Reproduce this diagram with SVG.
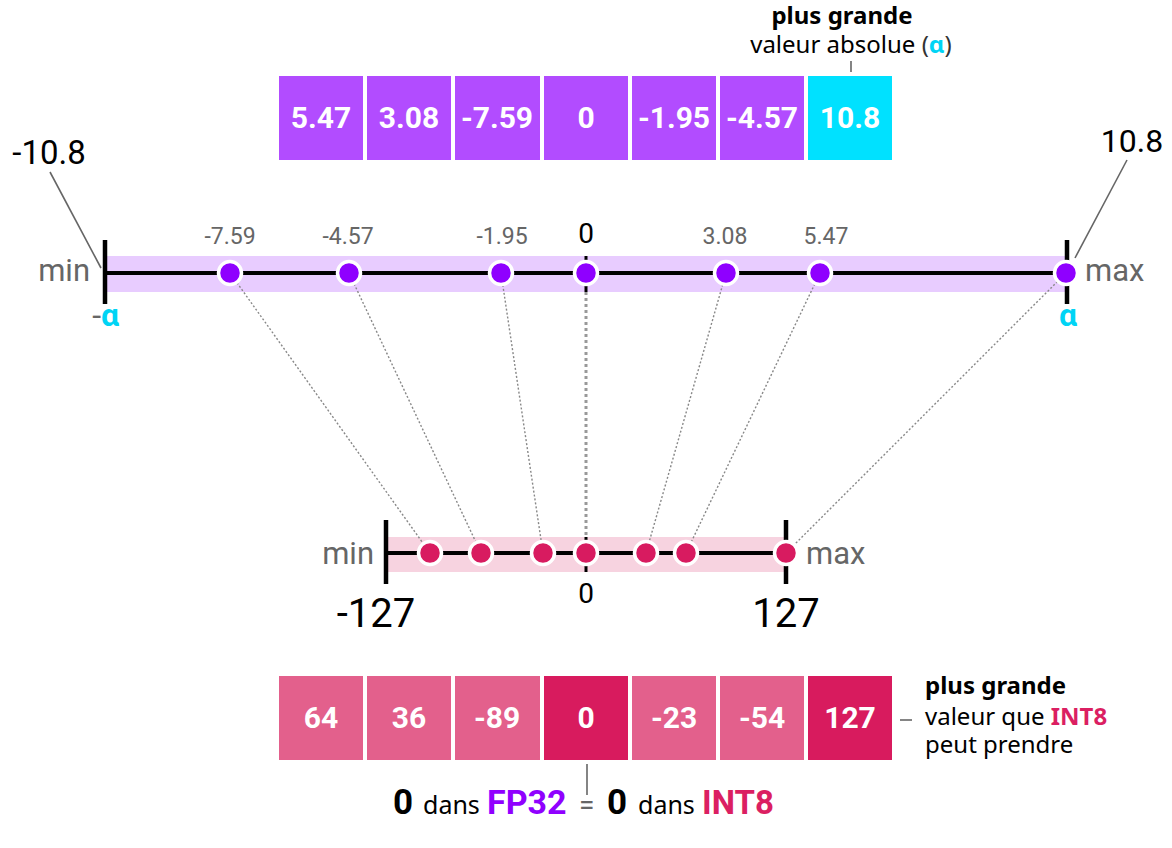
<svg xmlns="http://www.w3.org/2000/svg" width="1172" height="848" viewBox="0 0 1172 848">
<style>
.box{fill:#B24CFF}
.cyan{fill:#00E1FF}
.pk{fill:#E3608C}
.pkd{fill:#D81B5E}
.bt{font-family:Roboto,"Liberation Sans",sans-serif;font-weight:bold;font-size:30px;fill:#fff;text-anchor:middle}
.rb{font-family:Roboto,"Liberation Sans",sans-serif}
.ns{font-family:"Noto Sans","Open Sans",sans-serif}
.val{font-family:Roboto,"Liberation Sans",sans-serif;font-size:23px;fill:#666;text-anchor:middle}
.lbl{font-family:Roboto,"Liberation Sans",sans-serif;font-size:31px;fill:#666}
.big{font-family:Roboto,"Liberation Sans",sans-serif;font-size:40px;fill:#000}
.conn{stroke:#888;stroke-width:1.4;stroke-dasharray:2 2;fill:none}
.lead{stroke:#666;stroke-width:1.6;fill:none}
.axis{stroke:#000;stroke-width:4;fill:none}
.tick{stroke:#000;stroke-width:4.5;fill:none}
.dp{fill:#8F00FF;stroke:#fff;stroke-width:3.5}
.dr{fill:#D81B60;stroke:#fff;stroke-width:3.5}
</style>

<g id="top-array">
<rect class="box" x="279" y="76" width="84" height="84"/><text class="bt" x="321" y="128">5.47</text>
<rect class="box" x="367" y="76" width="84" height="84"/><text class="bt" x="409" y="128">3.08</text>
<rect class="box" x="455" y="76" width="85" height="84"/><text class="bt" x="497" y="128">-7.59</text>
<rect class="box" x="544" y="76" width="84" height="84"/><text class="bt" x="586" y="128">0</text>
<rect class="box" x="632" y="76" width="84" height="84"/><text class="bt" x="674" y="128">-1.95</text>
<rect class="box" x="720" y="76" width="84" height="84"/><text class="bt" x="762" y="128">-4.57</text>
<rect class="cyan" x="808" y="76" width="84" height="84"/><text class="bt" x="850" y="128">10.8</text>
</g>

<g id="top-note">
<text class="ns" x="842" y="24" font-size="24" font-weight="bold" text-anchor="middle" fill="#000">plus grande</text>
<text class="ns" x="851" y="53" font-size="24" text-anchor="middle" fill="#000">valeur absolue <tspan fill="#333">(</tspan><tspan fill="#00D4F5" font-weight="bold">α</tspan><tspan fill="#333">)</tspan></text>
<line class="lead" x1="851" y1="61" x2="851" y2="72"/>
</g>

<g id="top-axis">
<rect x="105" y="256" width="962" height="36" fill="#E8CCFF"/>
</g>

<g id="bottom-axis-band">
<rect x="386" y="537" width="400" height="35" fill="#F7D3E0"/>
</g>

<g id="connectors">
<line class="conn" x1="230" y1="273" x2="430" y2="553"/>
<line class="conn" x1="349" y1="273" x2="481" y2="553"/>
<line class="conn" x1="501" y1="273" x2="543" y2="553"/>
<line class="conn" x1="726" y1="273" x2="646" y2="553"/>
<line class="conn" x1="820" y1="273" x2="686" y2="553"/>
<line class="conn" x1="1066" y1="273" x2="786" y2="553"/>
<line x1="586" y1="292" x2="586" y2="537" stroke="#999" stroke-width="3" stroke-dasharray="3 3"/>
<line class="lead" x1="50" y1="172" x2="101" y2="268"/>
<line class="lead" x1="1127" y1="160" x2="1075" y2="258"/>
<line class="lead" x1="587" y1="764" x2="587" y2="795"/>
<line class="lead" x1="900" y1="720" x2="912" y2="720"/>
</g>

<g id="fp32-line">
<line class="axis" x1="105" y1="273" x2="1067" y2="273"/>
<line class="tick" x1="105" y1="240" x2="105" y2="304"/>
<line class="tick" x1="1067" y1="240" x2="1067" y2="304"/>
<line x1="586" y1="256" x2="586" y2="292" stroke="#000" stroke-width="3"/>
<circle class="dp" cx="230" cy="273" r="11.5"/>
<circle class="dp" cx="349" cy="273" r="11.5"/>
<circle class="dp" cx="501" cy="273" r="11.5"/>
<circle class="dp" cx="586" cy="273" r="11.5"/>
<circle class="dp" cx="726" cy="273" r="11.5"/>
<circle class="dp" cx="820" cy="273" r="11.5"/>
<circle class="dp" cx="1066" cy="273" r="11.5"/>
<text class="val" x="230" y="244">-7.59</text>
<text class="val" x="348" y="244">-4.57</text>
<text class="val" x="502" y="244">-1.95</text>
<text class="rb" x="586" y="243" font-size="28" text-anchor="middle" fill="#000">0</text>
<text class="val" x="725" y="244">3.08</text>
<text class="val" x="826" y="244">5.47</text>
<text class="lbl" x="90" y="281" text-anchor="end">min</text>
<text class="lbl" x="1085" y="281">max</text>
<text class="rb" x="119" y="326" font-size="32" text-anchor="end"><tspan fill="#666">-</tspan><tspan fill="#00D4F5" font-weight="bold">α</tspan></text>
<text class="rb" x="1068" y="326" font-size="32" text-anchor="middle" fill="#00D4F5" font-weight="bold">α</text>
<text class="rb" x="49" y="164" font-size="33" text-anchor="middle" fill="#000">-10.8</text>
<text class="rb" x="1132" y="152" font-size="32" text-anchor="middle" fill="#000">10.8</text>
</g>

<g id="int8-line">
<line class="axis" x1="386" y1="553" x2="786" y2="553"/>
<line class="tick" x1="386" y1="520" x2="386" y2="584"/>
<line class="tick" x1="786" y1="520" x2="786" y2="584"/>
<line x1="586" y1="537" x2="586" y2="572" stroke="#000" stroke-width="3"/>
<circle class="dr" cx="430" cy="553" r="11.5"/>
<circle class="dr" cx="481" cy="553" r="11.5"/>
<circle class="dr" cx="543" cy="553" r="11.5"/>
<circle class="dr" cx="586" cy="553" r="11.5"/>
<circle class="dr" cx="646" cy="553" r="11.5"/>
<circle class="dr" cx="686" cy="553" r="11.5"/>
<circle class="dr" cx="786" cy="553" r="11.5"/>
<text class="lbl" x="374" y="564" text-anchor="end">min</text>
<text class="lbl" x="806" y="564">max</text>
<text class="rb" x="586" y="603" font-size="28" text-anchor="middle" fill="#000">0</text>
<text class="big" x="376" y="627" text-anchor="middle">-127</text>
<text class="big" x="786" y="627" text-anchor="middle">127</text>
</g>

<g id="bottom-array">
<rect class="pk" x="279" y="676" width="84" height="84"/><text class="bt" x="321" y="728">64</text>
<rect class="pk" x="367" y="676" width="84" height="84"/><text class="bt" x="409" y="728">36</text>
<rect class="pk" x="455" y="676" width="85" height="84"/><text class="bt" x="497" y="728">-89</text>
<rect class="pkd" x="544" y="676" width="84" height="84"/><text class="bt" x="586" y="728">0</text>
<rect class="pk" x="632" y="676" width="84" height="84"/><text class="bt" x="674" y="728">-23</text>
<rect class="pk" x="720" y="676" width="84" height="84"/><text class="bt" x="762" y="728">-54</text>
<rect class="pkd" x="808" y="676" width="84" height="84"/><text class="bt" x="850" y="728">127</text>
</g>

<g id="bottom-note">
<text class="ns" x="925" y="694" font-size="24" font-weight="bold" fill="#000">plus grande</text>
<text class="ns" x="925" y="725" font-size="24" fill="#000">valeur que <tspan font-weight="bold" fill="#DB1F62">INT8</tspan></text>
<text class="ns" x="925" y="753" font-size="24" fill="#000">peut prendre</text>
</g>

<g id="equality">
<text class="rb" x="393" y="814" font-size="35" font-weight="bold" fill="#000">0</text>
<text class="ns" x="423" y="814" font-size="25" fill="#000">dans</text>
<text class="rb" x="487" y="814" font-size="34" font-weight="bold" fill="#9000FF">FP32</text>
<text class="rb" x="579" y="814" font-size="28" fill="#666">=</text>
<text class="rb" x="607" y="814" font-size="35" font-weight="bold" fill="#000">0</text>
<text class="ns" x="638" y="814" font-size="25" fill="#000">dans</text>
<text class="rb" x="702" y="814" font-size="33" font-weight="bold" fill="#DB1F62">INT8</text>
</g>
</svg>
